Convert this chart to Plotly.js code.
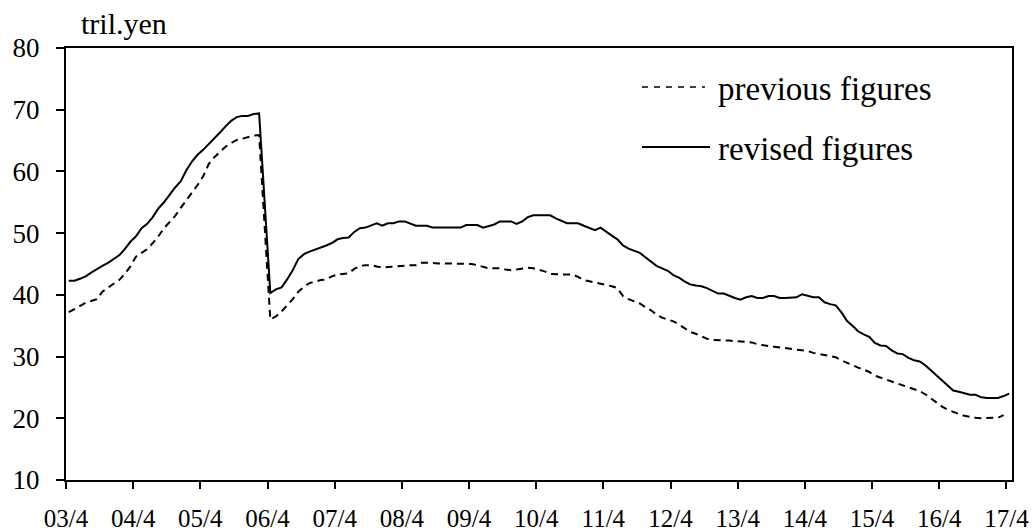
<!DOCTYPE html>
<html>
<head>
<meta charset="utf-8">
<script src="https://cdn.plot.ly/plotly-3.0.1.min.js"></script>
<style>
  html, body { margin: 0; padding: 0; background: #fff; }
  #chart { width: 1035px; height: 531px; }
</style>
</head>
<body>
<div id="chart"></div>
<script>
// Monthly data, April 2003 (index 0) to April 2017 (index 168)
const tickLabels = ["03/4","04/4","05/4","06/4","07/4","08/4","09/4","10/4","11/4","12/4","13/4","14/4","15/4","16/4","17/4"];

const revisedFigures = [
  42.3,42.3,42.6,43.0,43.6,44.2,44.7,45.2,45.8,46.4,47.4,48.6,
  49.5,50.8,51.5,52.6,54.0,55.0,56.2,57.4,58.4,60.2,61.6,62.7,
  63.5,64.4,65.3,66.3,67.3,68.2,68.8,69.0,69.0,69.3,69.4,55.0,
  40.3,40.9,41.2,42.5,44.0,45.8,46.6,47.0,47.3,47.6,48.0,48.4,
  49.0,49.2,49.3,50.2,50.8,50.9,51.3,51.6,51.2,51.6,51.6,51.9,
  51.9,51.6,51.2,51.2,51.2,50.9,50.9,50.9,50.9,50.9,50.9,51.3,
  51.3,51.3,50.9,51.1,51.4,51.9,51.9,51.9,51.5,51.9,52.6,52.9,
  52.9,52.9,52.9,52.4,52.0,51.6,51.6,51.6,51.2,50.8,50.5,50.9,
  50.2,49.6,49.0,48.0,47.5,47.1,46.8,46.1,45.4,44.7,44.3,43.9,
  43.2,42.8,42.2,41.7,41.5,41.4,41.1,40.7,40.2,40.2,39.8,39.5,
  39.2,39.6,39.8,39.5,39.5,39.8,39.8,39.5,39.5,39.5,39.6,40.1,
  39.8,39.6,39.6,38.8,38.5,38.3,37.2,35.8,35.0,34.1,33.6,33.2,
  32.2,31.8,31.7,31.0,30.5,30.4,29.8,29.4,29.2,28.6,27.8,27.0,
  26.2,25.4,24.5,24.3,24.1,23.8,23.8,23.4,23.3,23.3,23.3,23.6,
  24.0
];

const previousFigures = [
  37.2,37.7,38.3,38.7,39.0,39.3,40.5,41.2,41.8,42.4,43.4,44.6,
  46.2,46.8,47.4,48.4,49.5,50.8,51.8,52.8,54.1,55.3,56.5,57.8,
  59.2,61.2,62.3,63.2,64.0,64.6,65.1,65.3,65.6,65.8,65.9,50.9,
  36.0,36.5,37.3,38.3,39.3,40.5,41.3,41.9,42.2,42.4,42.5,43.0,
  43.3,43.4,43.5,44.2,44.7,44.8,44.8,44.6,44.4,44.5,44.6,44.7,
  44.7,44.8,44.8,45.2,45.2,45.1,45.1,45.1,45.1,45.1,45.1,45.1,
  45.0,44.8,44.5,44.3,44.3,44.3,44.1,44.0,44.1,44.3,44.4,44.3,
  44.1,43.8,43.4,43.3,43.3,43.3,43.3,42.9,42.4,42.2,42.0,41.9,
  41.7,41.4,41.1,39.8,39.3,39.0,38.6,38.0,37.5,36.8,36.3,36.0,
  35.7,35.2,34.6,34.0,33.7,33.3,32.9,32.7,32.7,32.6,32.6,32.5,
  32.4,32.4,32.3,32.0,31.8,31.7,31.6,31.5,31.3,31.2,31.1,31.1,
  30.9,30.6,30.4,30.2,30.1,29.9,29.4,29.0,28.5,28.2,27.9,27.5,
  26.9,26.6,26.3,25.9,25.6,25.3,25.0,24.7,24.4,23.9,23.2,22.6,
  21.9,21.4,21.0,20.7,20.4,20.2,20.1,20.0,20.0,20.1,20.1,20.5
];

const legendNames = ["previous figures", "revised figures"];
const unitLabel = "tril.yen";

const FONT = "Liberation Serif";
const nMonths = revisedFigures.length;
const xRev = revisedFigures.map((_, i) => i);
const xPrev = previousFigures.map((_, i) => i);
const tickVals = tickLabels.map((_, k) => k * 12 - 0.5);

const traces = [
  {
    x: xPrev, y: previousFigures, name: legendNames[0],
    type: "scatter", mode: "lines",
    line: { color: "#000", width: 2, dash: "7px,5px" },
    hoverinfo: "skip", showlegend: false
  },
  {
    x: xRev, y: revisedFigures, name: legendNames[1],
    type: "scatter", mode: "lines",
    line: { color: "#000", width: 2 },
    hoverinfo: "skip", showlegend: false
  }
];

const L = 66, R = 1012, T = 48, B = 480;
const px = v => (v - L) / (R - L);
const py = v => (B - v) / (B - T);

const layout = {
  width: 1035, height: 531,
  margin: { l: L, r: 1035 - R, t: T, b: 531 - B, pad: 0 },
  paper_bgcolor: "#fff", plot_bgcolor: "#fff",
  showlegend: false,
  font: { family: FONT, color: "#000", size: 22 },
  xaxis: {
    range: [-0.5, nMonths - 0.5],
    tickmode: "array", tickvals: tickVals, ticktext: tickLabels,
    ticks: "outside", ticklen: 7, tickwidth: 2, tickcolor: "#000",
    showline: true, linecolor: "#000", linewidth: 2, mirror: true,
    showgrid: false, zeroline: false,
    tickfont: { family: FONT, size: 25, color: "#000" },
    ticklabelstandoff: 8
  },
  yaxis: {
    range: [10, 80], tickmode: "array",
    tickvals: [10,20,30,40,50,60,70,80],
    ticks: "outside", ticklen: 8, tickwidth: 2, tickcolor: "#000",
    showline: true, linecolor: "#000", linewidth: 2, mirror: true,
    showgrid: false, zeroline: false,
    tickfont: { family: FONT, size: 27, color: "#000" },
    ticklabelstandoff: 11
  },
  shapes: [
    { type: "line", xref: "paper", yref: "paper",
      x0: px(642), x1: px(705), y0: py(87), y1: py(87),
      line: { color: "#000", width: 1.5, dash: "6px,6px" } },
    { type: "line", xref: "paper", yref: "paper",
      x0: px(642), x1: px(710), y0: py(147), y1: py(147),
      line: { color: "#000", width: 2 } }
  ],
  annotations: [
    { text: legendNames[0], xref: "paper", yref: "paper",
      x: px(716), y: py(89), xanchor: "left", yanchor: "middle",
      showarrow: false, font: { family: FONT, size: 33, color: "#000" } },
    { text: legendNames[1], xref: "paper", yref: "paper",
      x: px(716), y: py(149), xanchor: "left", yanchor: "middle",
      showarrow: false, font: { family: FONT, size: 33, color: "#000" } },
    { text: unitLabel, xref: "paper", yref: "paper",
      x: px(79), y: py(24), xanchor: "left", yanchor: "middle",
      showarrow: false, font: { family: FONT, size: 30, color: "#000" } }
  ]
};

Plotly.newPlot("chart", traces, layout, { staticPlot: true, displayModeBar: false });
</script>
</body>
</html>
